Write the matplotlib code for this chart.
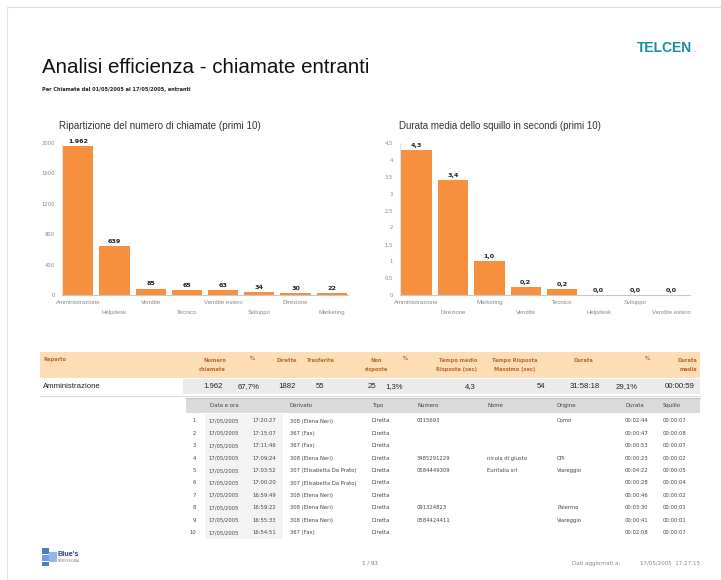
import matplotlib
matplotlib.use("Agg")
import matplotlib.pyplot as plt
from matplotlib import font_manager
from matplotlib.patches import Rectangle

W, H = 721, 580
names = {f.name for f in font_manager.fontManager.ttflist}
COND = None
for cand in ["DejaVu Sans Condensed", "Liberation Sans Narrow"]:
    if cand in names:
        COND = cand
        break
BASE = "DejaVu Sans"
NARROW = COND if COND else "Liberation Sans"
plt.rcParams['font.family'] = [BASE]

# ---------------- data ----------------
title = "Analisi efficienza - chiamate entranti"
subtitle = "Per Chiamate dal 01/05/2005 al 17/05/2005, entranti"
chart1_title = "Ripartizione del numero di chiamate (primi 10)"
chart1_cats = ["Amministrazione", "Helpdesk", "Vendite", "Tecnico",
               "Vendite estero", "Sviluppo", "Direzione", "Marketing"]
chart1_vals = [1962, 639, 85, 65, 63, 34, 30, 22]
chart1_ticks = [0, 400, 800, 1200, 1600, 2000]

chart2_title = "Durata media dello squillo in secondi (primi 10)"
chart2_cats = ["Amministrazione", "Direzione", "Marketing", "Vendite",
               "Tecnico", "Helpdesk", "Sviluppo", "Vendite estero"]
chart2_vals = [4.3, 3.4, 1.0, 0.24, 0.18, 0.0, 0.0, 0.0]
chart2_ticks = [0, 0.5, 1, 1.5, 2, 2.5, 3, 3.5, 4, 4.5]
chart2_ticklabels = ["0", "0,5", "1", "1,5", "2", "2,5", "3", "3,5", "4", "4,5"]

summary_headers = ["Reparto", "Numero\nchiamate", "%", "Dirette", "Trasferite",
                   "Non\nrisposte", "%", "Tempo medio\nRisposta (sec)",
                   "Tempo Risposta\nMassimo (sec)", "Durata", "%", "Durata\nmedia"]
summary_row = ["Amministrazione", "1.962", "67,7%", "1882", "55", "25", "1,3%",
               "4,3", "54", "31:58:18", "29,1%", "00:00:59"]

detail_headers = ["Data e ora", "Derivato", "Tipo", "Numero", "Nome",
                  "Origine", "Durata", "Squillo"]
det_idx = ["1", "2", "3", "4", "5", "6", "7", "8", "9", "10"]
det_date = ["17/05/2005"] * 10
det_time = ["17:20:27", "17:15:07", "17:11:46", "17:09:24", "17:03:52",
            "17:00:20", "16:59:49", "16:59:22", "16:55:33", "16:54:51"]
det_deriv = ["308 (Elena Neri)", "367 (Fax)", "367 (Fax)", "308 (Elena Neri)",
             "307 (Elisabetta Da Prato)", "307 (Elisabetta Da Prato)",
             "308 (Elena Neri)", "308 (Elena Neri)", "308 (Elena Neri)", "367 (Fax)"]
det_tipo = ["Diretta"] * 10
det_num = ["0315693", "", "", "3485291229", "0584449309", "", "", "091324823",
           "0584424411", ""]
det_nome = ["", "", "", "nicola di giusto", "Euritalia srl", "", "", "", "", ""]
det_orig = ["Como", "", "", "OPI", "Viareggio", "", "", "Palermo", "Viareggio", ""]
det_dur = ["00:02:44", "00:00:47", "00:00:53", "00:00:23", "00:04:22",
           "00:00:28", "00:00:46", "00:03:30", "00:00:41", "00:02:08"]
det_squ = ["00:00:07", "00:00:08", "00:00:07", "00:00:02", "00:00:05",
           "00:00:04", "00:00:02", "00:00:01", "00:00:01", "00:00:07"]

footer_page = "1 / 93"
footer_upd = "Dati aggiornati a:"
footer_date = "17/05/2005  17:27:15"

# ---------------- styles ----------------
ORANGE = "#F68F3E"
PEACH = "#FCDDB4"
HDR_TXT = "#B86A2E"
TEAL = "#14909E"

fig = plt.figure(figsize=(W / 100, H / 100), dpi=100)
page = fig.add_axes([0, 0, 1, 1])
page.set_xlim(0, W)
page.set_ylim(H, 0)
page.axis("off")


def fit(t, target):
    r = fig.canvas.get_renderer()
    w = t.get_window_extent(r).width
    t.set_fontsize(t.get_fontsize() * target / w)


# page frame
page.plot([7, W], [7, 7], color="#dddddd", lw=0.8)
page.plot([7, 7], [7, H], color="#e4e4e4", lw=0.8)

# title / subtitle / logo
t_title = page.text(42, 73, title, fontsize=14, family=NARROW, va="baseline",
                    ha="left", color="#111111")
fit(t_title, 330)
page.text(42, 89, subtitle, fontsize=3.6, va="center", ha="left",
          color="#222222", fontweight="bold")
t_logo = page.text(637, 52, "TELCEN", fontsize=11, fontweight="bold",
                   family=NARROW, color=TEAL, va="baseline", ha="left")
fit(t_logo, 55)
page.text(693, 52, ".", fontsize=5, color=TEAL, va="baseline", ha="left")

# chart titles
c1t = page.text(59, 126, chart1_title, fontsize=6.3, va="center", ha="left",
                color="#333333", family=NARROW)
c2t = page.text(399, 126, chart2_title, fontsize=6.3, va="center", ha="left",
                color="#333333", family=NARROW)
fit(c1t, 203)
fit(c2t, 205)


def px_axes(x0, x1, ytop, ybot):
    return fig.add_axes([x0 / W, 1 - ybot / H, (x1 - x0) / W, (ybot - ytop) / H])


def bar_chart(ax, cats, vals, ticks, ticklabels, ymax, labels, xr):
    x = list(range(len(cats)))
    ax.bar(x, vals, width=0.83, color=ORANGE, zorder=2)
    ax.set_xlim(*xr)
    ax.set_ylim(0, ymax)
    ax.set_facecolor("none")
    for s in ["top", "right"]:
        ax.spines[s].set_visible(False)
    ax.spines["left"].set_color("#dddddd")
    ax.spines["bottom"].set_color("#c8c8c8")
    ax.spines["left"].set_linewidth(0.6)
    ax.spines["bottom"].set_linewidth(0.8)
    ax.set_yticks(ticks)
    ax.set_yticklabels(ticklabels)
    ax.tick_params(axis="y", length=0, labelsize=3.8, labelcolor="#888888", pad=5)
    ax.set_xticks([])
    trans = ax.get_xaxis_transform()
    for i, c in enumerate(cats):
        yy = -0.048 if i % 2 == 0 else -0.118
        ax.text(i, yy, c, transform=trans, ha="center", va="center",
                fontsize=4.3, color="#888888", family=NARROW)
    for i, (v, lab) in enumerate(zip(vals, labels)):
        ax.annotate(lab, (i, v), xytext=(0, 1.5), textcoords="offset points",
                    ha="center", va="bottom", fontsize=4.6, fontweight="bold",
                    color="#222222", annotation_clip=False)


ax1 = px_axes(62, 348, 143, 295)
bar_chart(ax1, chart1_cats, chart1_vals, chart1_ticks,
          [str(t) for t in chart1_ticks], 2000,
          ["{:,}".format(v).replace(",", ".") for v in chart1_vals], (-0.45, 7.45))
ax2 = px_axes(400, 690, 143, 295)
bar_chart(ax2, chart2_cats, chart2_vals, chart2_ticks, chart2_ticklabels, 4.5,
          [("%.1f" % v).replace(".", ",") for v in chart2_vals], (-0.45, 7.5))

# ---------------- summary table ----------------
page.add_patch(Rectangle((40, 352), 660, 26, color=PEACH, lw=0, zorder=1))
hdr_pos = [(43, "left"), (226, "right"), (252, "center"), (287, "center"),
           (321, "center"), (376, "center"), (405, "center"), (477, "right"),
           (515, "center"), (583, "center"), (647, "center"), (697, "right")]
for (x, ha), h in zip(hdr_pos, summary_headers):
    if "\n" in h:
        page.text(x, 365, h, fontsize=3.7, fontweight="bold", color=HDR_TXT,
                  ha=ha, va="center", linespacing=1.8, zorder=3,
                  multialignment=ha)
    else:
        yy = 358 if h == "%" else 360
        page.text(x, yy, h, fontsize=3.7, fontweight="bold", color=HDR_TXT,
                  ha=ha, va="center", zorder=3)

page.add_patch(Rectangle((183, 379), 517, 15, color="#ebebeb", lw=0, zorder=1))
page.plot([40, 700], [395.5, 395.5], color="#dddddd", lw=0.8, zorder=2)
row_pos = [(43, "left"), (223, "right"), (260, "right"), (287, "center"),
           (320, "center"), (376, "right"), (394, "center"), (476, "right"),
           (545, "right"), (600, "right"), (638, "right"), (695, "right")]
for (x, ha), v in zip(row_pos, summary_row):
    page.text(x, 387, v, fontsize=5.6, color="#222222", ha=ha, va="center",
              zorder=3, family=NARROW)

# ---------------- detail table ----------------
page.add_patch(Rectangle((186, 398), 514, 15, color="#dadada", lw=0, zorder=1))
page.plot([186, 700], [398, 398], color="#c4c4c4", lw=0.8, zorder=2)
page.add_patch(Rectangle((205, 414), 78, 125, color="#f3f3f3", lw=0, zorder=1))
det_hx = [210, 290, 372, 417, 488, 557, 625, 663]
for x, h in zip(det_hx, detail_headers):
    page.text(x, 405.5, h, fontsize=3.9, color="#444444", ha="left",
              va="center", zorder=3)

cols = [det_date, det_time, det_deriv, det_tipo, det_num, det_nome, det_orig,
        det_dur, det_squ]
col_x = [208, 252, 290, 372, 417, 487, 557, 625, 663]
for r in range(len(det_idx)):
    yy = 421 + r * 12.4
    page.text(196, yy, det_idx[r], fontsize=3.8, color="#444444", ha="right",
              va="center", zorder=3)
    for cx, col in zip(col_x, cols):
        if col[r]:
            page.text(cx, yy, col[r], fontsize=3.8, color="#444444", ha="left",
                      va="center", zorder=3)

# ---------------- footer ----------------
for (x, y, w, h, c) in [(42, 548, 7, 6, "#4a7fc4"), (42, 555, 7, 6, "#6f9fd8"),
                        (42, 562, 7, 4, "#4a7fc4"), (49, 552, 8, 10, "#8fb8e6")]:
    page.add_patch(Rectangle((x, y), w, h, color=c, lw=0, zorder=2))
page.text(58, 554, "Blue's", fontsize=5.2, fontweight="bold", color="#2a3f7a",
          ha="left", va="center", family=NARROW)
page.text(58, 560.5, "PROFESSIONAL", fontsize=2.2, color="#777777", ha="left",
          va="center")
page.text(370, 563, footer_page, fontsize=4.0, color="#777777", ha="center",
          va="center")
page.text(572, 563, footer_upd, fontsize=4.0, color="#888888", ha="left",
          va="center")
page.text(640, 563, footer_date, fontsize=4.0, color="#888888", ha="left",
          va="center")

fig.savefig("out.png", dpi=100)
